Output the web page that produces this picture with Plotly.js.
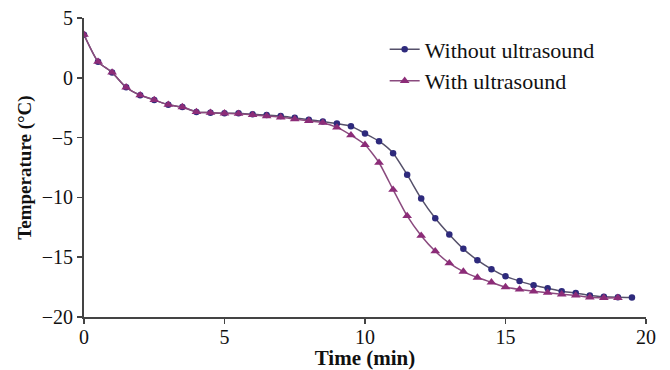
<!DOCTYPE html>
<html>
<head>
<meta charset="utf-8">
<script src="https://cdn.plot.ly/plotly-3.0.1.min.js"></script>
<style>html,body{margin:0;padding:0;background:#fff;}#chart{width:670px;height:370px;}</style>
</head>
<body>
<div id="chart"></div>
<script>
// Time (min)
const timeWithout = [0,0.5,1,1.5,2,2.5,3,3.5,4,4.5,5,5.5,6,6.5,7,7.5,8,8.5,9,9.5,10,10.5,11,11.5,12,12.5,13,13.5,14,14.5,15,15.5,16,16.5,17,17.5,18,18.5,19,19.5];
const tempWithout = [3.6,1.35,0.45,-0.8,-1.45,-1.85,-2.25,-2.45,-2.85,-2.92,-2.97,-2.97,-3.05,-3.12,-3.2,-3.35,-3.5,-3.65,-3.83,-4.05,-4.65,-5.3,-6.3,-8.1,-10.1,-11.75,-13.1,-14.3,-15.25,-16.0,-16.6,-17.0,-17.35,-17.6,-17.85,-18.0,-18.2,-18.3,-18.35,-18.37];
const timeWith = [0,0.5,1,1.5,2,2.5,3,3.5,4,4.5,5,5.5,6,6.5,7,7.5,8,8.5,9,9.5,10,10.5,11,11.5,12,12.5,13,13.5,14,14.5,15,15.5,16,16.5,17,17.5,18,18.5,19];
const tempWith = [3.6,1.35,0.45,-0.8,-1.45,-1.85,-2.25,-2.45,-2.85,-2.92,-2.97,-3.0,-3.1,-3.2,-3.3,-3.45,-3.6,-3.75,-4.15,-4.8,-5.6,-7.1,-9.35,-11.55,-13.2,-14.5,-15.5,-16.2,-16.7,-17.1,-17.5,-17.7,-17.85,-17.97,-18.1,-18.2,-18.35,-18.4,-18.4];
const seriesNames = ["Without ultrasound", "With ultrasound"];
const xTicks = [0,5,10,15,20];
const yTicks = [5,0,-5,-10,-15,-20];

const serif = "Liberation Serif";
const traces = [
  {x: timeWithout, y: tempWithout, name: seriesNames[0], type: "scatter", mode: "lines+markers",
   line: {color: "#55506a", width: 1.5, shape: "spline", smoothing: 0.6},
   marker: {symbol: "circle", size: 6.5, color: "#2e2a7c"}},
  {x: timeWith, y: tempWith, name: seriesNames[1], type: "scatter", mode: "lines+markers",
   line: {color: "#8a4a7e", width: 1.5, shape: "spline", smoothing: 0.6},
   marker: {symbol: "triangle-up", size: 8.5, color: "#8c2c78"}}
];
const layout = {
  width: 670, height: 370,
  margin: {l: 84, r: 24, t: 18, b: 53},
  paper_bgcolor: "#fff", plot_bgcolor: "#fff",
  font: {family: serif, color: "#111", size: 20},
  showlegend: true,
  legend: {x: 0.535, y: 0.965, xanchor: "left", yanchor: "top", bgcolor: "rgba(0,0,0,0)",
           font: {family: serif, size: 22, color: "#111"}, itemwidth: 30, tracegroupgap: 0},
  xaxis: {range: [0, 20], tickvals: xTicks, ticks: "outside", ticklen: 5, tickwidth: 1.5, tickcolor: "#444",
          showline: true, linecolor: "#444", linewidth: 2, showgrid: false, zeroline: false,
          ticklabelstandoff: -4,
          tickfont: {family: serif, size: 20, color: "#111"},
          title: {text: "<b>Time (min)</b>", font: {family: serif, size: 21, color: "#111"}, standoff: 1}},
  yaxis: {range: [-20, 5], tickvals: yTicks, ticks: "outside", ticklen: 5, tickwidth: 1.5, tickcolor: "#444",
          showline: true, linecolor: "#444", linewidth: 2, showgrid: false, zeroline: false,
          tickfont: {family: serif, size: 20, color: "#111"},
          title: {text: "<b>Temperature (°C)</b>", font: {family: serif, size: 19, color: "#111"}, standoff: 5}}
};
Plotly.newPlot("chart", traces, layout, {displayModeBar: false, staticPlot: true});
</script>
</body>
</html>
